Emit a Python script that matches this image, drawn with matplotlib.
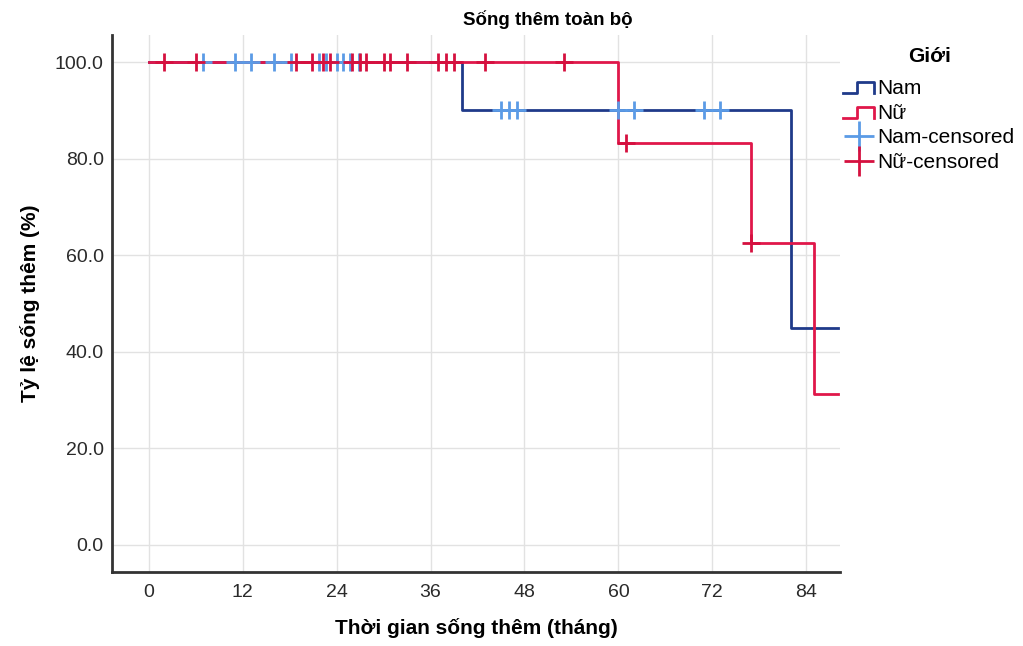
import numpy as np
import matplotlib
matplotlib.use("Agg")
import matplotlib.pyplot as plt
from matplotlib.lines import Line2D
from matplotlib.legend_handler import HandlerBase

plt.rcParams['font.family'] = ['Liberation Sans', 'DejaVu Sans']

# Kaplan-Meier step curves (time in months, survival in %)
nam_t = [0, 40, 82, 88]
nam_s = [100.0, 90.0, 45.0, 45.0]
nu_t = [0, 60, 77, 85, 88]
nu_s = [100.0, 83.33, 62.5, 31.25, 31.25]

# censored observations
nam_cens_t = [6.9, 11, 13, 16, 18.2, 21.8, 22.7, 24, 24.8, 25.7, 26.8,
              45, 46, 47, 60, 62, 71, 73]
nam_cens_s = [100] * 11 + [90] * 7
nu_cens_t = [2, 6, 18.8, 20.9, 22.3, 23.1, 26, 27, 27.8, 30, 30.8, 33,
             37, 38, 39, 43, 53, 61, 77]
nu_cens_s = [100] * 17 + [83.33, 62.5]

x_ticks = [0, 12, 24, 36, 48, 60, 72, 84]
y_ticks = [0, 20, 40, 60, 80, 100]

c_nam = '#1f3a8a'
c_nu = '#e0174a'
c_nam_c = '#5b9be6'
c_nu_c = '#d5103f'


class StepHandler(HandlerBase):
    # legend icon shaped like a little survival step
    def create_artists(self, legend, orig_handle, xdescent, ydescent,
                       width, height, fontsize, trans):
        lo, hi = 0.05 * height, 0.8 * height
        xs = np.array([0, 0.45 * width, 0.45 * width, width, width]) - xdescent
        ys = np.array([lo, lo, hi, hi, lo]) - ydescent
        ln = Line2D(xs, ys, color=orig_handle.get_color(), lw=2, transform=trans)
        return [ln]


fig = plt.figure(figsize=(10.23, 6.46), dpi=100)
ax = fig.add_axes([0.1095, 0.1146, 0.7115, 0.8312])

ax.step(nam_t, nam_s, where='post', color=c_nam, lw=2, zorder=3)
ax.step(nu_t, nu_s, where='post', color=c_nu, lw=2, zorder=4)
ax.plot(nam_cens_t, nam_cens_s, ls='none', marker='+', ms=12.5, mew=2,
        color=c_nam_c, zorder=5)
ax.plot(nu_cens_t, nu_cens_s, ls='none', marker='+', ms=12.5, mew=2,
        color=c_nu_c, zorder=6)

ax.set_xlim(-4.7, 88.3)
ax.set_ylim(-5.6, 105.6)
ax.set_xticks(x_ticks)
ax.set_yticks(y_ticks)
ax.set_yticklabels([f'{v:.1f}' for v in y_ticks])
ax.tick_params(length=0, labelsize=14, colors='#2a2a2a')
ax.tick_params(axis='x', pad=9)
ax.tick_params(axis='y', pad=6)
ax.grid(True, color='#e2e2e2', lw=1)
ax.set_axisbelow(True)
for s in ['top', 'right']:
    ax.spines[s].set_visible(False)
for s in ['left', 'bottom']:
    ax.spines[s].set_linewidth(2)
    ax.spines[s].set_color('#333333')

ax.set_xlabel('Thời gian sống thêm (tháng)', fontsize=15, fontweight='bold', labelpad=12)
ax.set_ylabel('Tỷ lệ sống thêm (%)', fontsize=15, fontweight='bold', labelpad=11)
fig.text(548 / 1023, 1 - 20 / 646, 'Sống thêm toàn bộ', ha='center', va='center',
         fontsize=13.5, fontweight='bold')

fig.text(930 / 1023, 1 - 57 / 646, 'Giới', ha='center', va='center',
         fontsize=15, fontweight='bold')
h_nam = Line2D([], [], color=c_nam)
h_nu = Line2D([], [], color=c_nu)
h_nam_c = Line2D([], [], color=c_nam_c, marker='+', ms=22, mew=2, ls='none')
h_nu_c = Line2D([], [], color=c_nu_c, marker='+', ms=22, mew=2, ls='none')
leg = fig.legend([h_nam, h_nu, h_nam_c, h_nu_c],
                 ['Nam', 'Nữ', 'Nam-censored', 'Nữ-censored'],
                 handler_map={h_nam: StepHandler(), h_nu: StepHandler()},
                 loc='upper left', bbox_to_anchor=(843 / 1023, 1 - 79 / 646),
                 frameon=False, fontsize=15,
                 handlelength=1.5, handletextpad=0.15, labelspacing=0.27,
                 borderaxespad=0, borderpad=0)

fig.savefig('out.png', dpi=100)
